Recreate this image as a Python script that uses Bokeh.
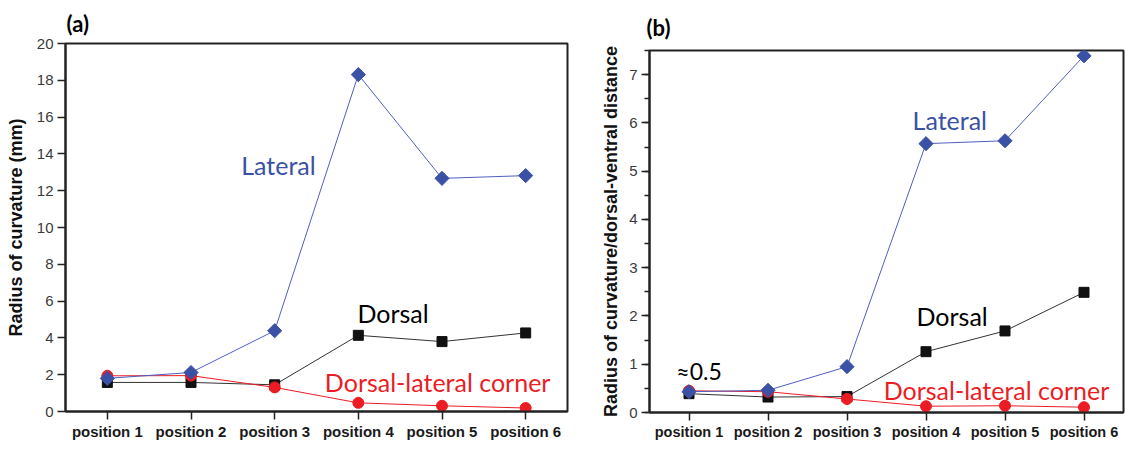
from bokeh.plotting import figure
from bokeh.layouts import row, column
from bokeh.models import Range1d, FixedTicker, SingleIntervalTicker, Label
from bokeh.embed import file_html
from bokeh.resources import INLINE

positions = ["position 1", "position 2", "position 3", "position 4", "position 5", "position 6"]
x_idx = [1, 2, 3, 4, 5, 6]

# panel (a): radius of curvature (mm)
a_lateral = [1.80, 2.12, 4.39, 18.31, 12.67, 12.82]
a_dorsal = [1.58, 1.58, 1.45, 4.14, 3.80, 4.27]
a_corner = [1.94, 1.95, 1.31, 0.47, 0.31, 0.19]

# panel (b): radius of curvature / dorsal-ventral distance
b_lateral = [0.43, 0.46, 0.95, 5.57, 5.63, 7.39]
b_dorsal = [0.39, 0.32, 0.33, 1.26, 1.69, 2.49]
b_corner = [0.45, 0.43, 0.28, 0.13, 0.14, 0.11]

BLUE = "#3A51A6"
BLUE_LINE = "#4F5FBF"
RED = "#EC1C24"
BLACK = "#111111"
AX = "#222222"
ANN_FONT = "Lato"


def make_panel(width, height, borders, y_end, y_ticker, minor_out, ylabel, ylabel_standoff,
               title, title_standoff, title_offset, lateral, dorsal, corner, tick_font):
    left, right, top, bottom = borders
    p = figure(width=width, height=height, output_backend="svg", toolbar_location=None,
               x_range=Range1d(0.5, 6.5), y_range=Range1d(0, y_end),
               min_border_left=left, min_border_right=right,
               min_border_top=top, min_border_bottom=bottom)
    p.grid.visible = False
    p.background_fill_color = "white"
    p.border_fill_color = "white"
    p.outline_line_color = AX
    p.outline_line_width = 2

    p.title.text = title
    p.title.text_font = ANN_FONT
    p.title.text_font_style = "bold"
    p.title.text_font_size = "22px"
    p.title.text_color = "#000000"
    p.title.align = "left"
    p.title.offset = title_offset
    p.title.standoff = title_standoff

    # x axis
    xa = p.xaxis[0]
    xa.axis_label = None
    xa.ticker = FixedTicker(ticks=x_idx)
    xa.major_label_overrides = {x: lab for x, lab in zip(x_idx, positions)}
    xa.major_label_text_font = "Liberation Sans"
    xa.major_label_text_font_style = "bold"
    xa.major_label_text_font_size = tick_font
    xa.major_label_text_color = "#1a1a1a"
    xa.major_label_standoff = 3
    xa.major_tick_out = 8
    xa.major_tick_in = 0
    xa.minor_tick_out = 0
    xa.axis_line_width = 2
    xa.axis_line_color = AX
    xa.major_tick_line_width = 1.5
    xa.major_tick_line_color = AX

    # y axis
    ya = p.yaxis[0]
    ya.ticker = y_ticker
    ya.major_label_text_font = "Liberation Sans"
    ya.major_label_text_font_size = "15px"
    ya.major_label_text_color = "#3a3a3a"
    ya.major_label_standoff = 4
    ya.major_tick_out = 8
    ya.major_tick_in = 0
    ya.minor_tick_out = minor_out
    ya.minor_tick_in = 0
    ya.axis_line_width = 2
    ya.axis_line_color = AX
    ya.major_tick_line_width = 1.5
    ya.major_tick_line_color = AX
    ya.minor_tick_line_width = 1.5
    ya.minor_tick_line_color = AX
    ya.axis_label = ylabel
    ya.axis_label_text_font = "Liberation Sans"
    ya.axis_label_text_font_style = "bold"
    ya.axis_label_text_font_size = "18px"
    ya.axis_label_text_color = "#111111"
    ya.axis_label_standoff = ylabel_standoff

    # series: dorsal, corner, lateral (lateral on top)
    p.line(x_idx, dorsal, line_color="#333333", line_width=1)
    p.scatter(x_idx, dorsal, marker="square", size=10, fill_color=BLACK, line_color=BLACK)
    p.line(x_idx, corner, line_color=RED, line_width=1)
    p.scatter(x_idx, corner, marker="circle", size=11, fill_color=RED, line_color=RED)
    p.line(x_idx, lateral, line_color=BLUE_LINE, line_width=1)
    p.scatter(x_idx, lateral, marker="square", angle=0.7853981634, size=10,
              fill_color=BLUE, line_color=BLUE)
    return p


pa = make_panel(590, 449, (65, 23, 43, 38), 20,
                SingleIntervalTicker(interval=2, num_minor_ticks=0), 0,
                "Radius of curvature (mm)", 8, "(a)", 13, 1,
                a_lateral, a_dorsal, a_corner, "15px")
pb = make_panel(535, 449, (59, 2, 50, 37), 7.5,
                SingleIntervalTicker(interval=1, num_minor_ticks=2), 5,
                "Radius of curvature/dorsal-ventral distance", 5, "(b)", 19, -3,
                b_lateral, b_dorsal, b_corner, "14.5px")


def ann(p, x, y, text, color, size):
    p.add_layout(Label(x=x, y=y, text=text, text_color=color, text_font=ANN_FONT,
                       text_font_size=size, text_align="left", text_baseline="alphabetic"))


ann(pa, 2.60, 13.42, "Lateral", BLUE, "25px")
ann(pa, 3.99, 5.37, "Dorsal", "#000000", "25px")
ann(pa, 3.60, 1.58, "Dorsal-lateral corner", RED, "25px")

ann(pb, 3.83, 6.06, "Lateral", BLUE, "25px")
ann(pb, 3.88, 1.99, "Dorsal", "#000000", "25px")
ann(pb, 3.465, 0.47, "Dorsal-lateral corner", RED, "25px")
ann(pb, 0.84, 0.85, "\u22480.5", "#000000", "23px")

layout = row(column(pa), column(pb))
open("out.html", "w").write(file_html(layout, INLINE))
